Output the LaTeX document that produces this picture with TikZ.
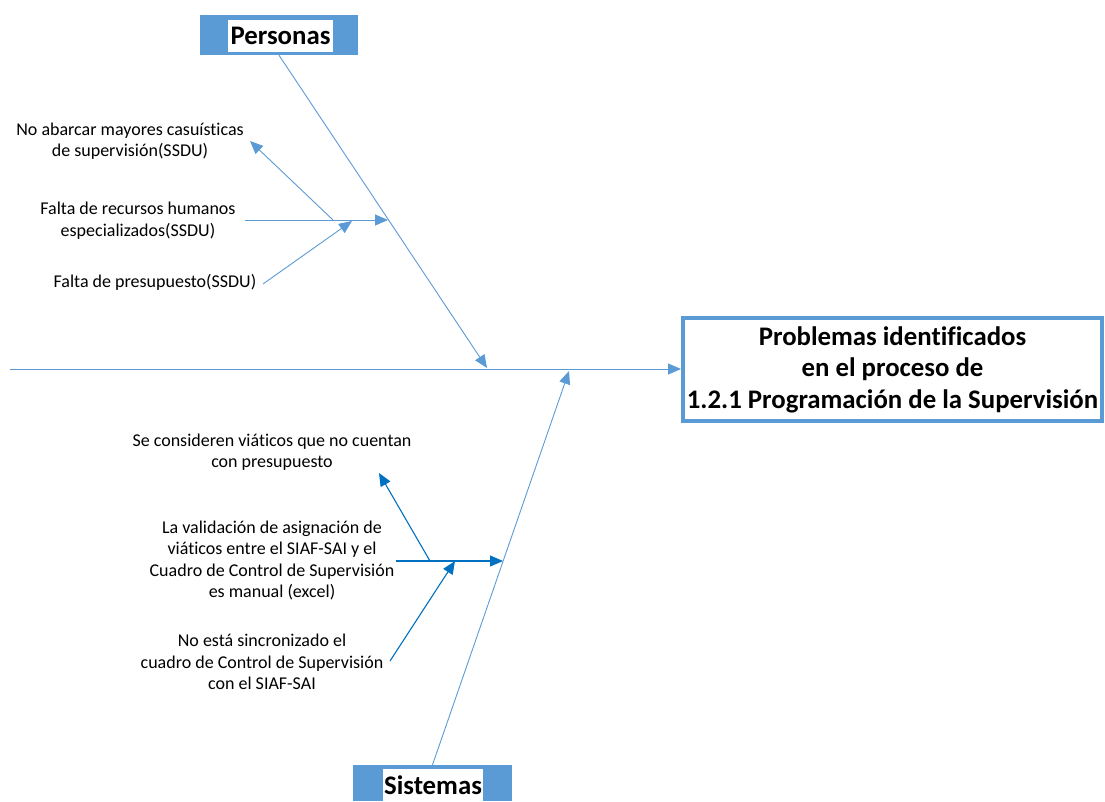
\documentclass[tikz,border=0pt]{standalone}
\usepackage{fontspec}
\setmainfont{Carlito}[Ligatures=NoCommon]
\usetikzlibrary{arrows.meta}
\definecolor{boneblue}{HTML}{5B9BD5}
\definecolor{subblue}{HTML}{0070C0}

\tikzset{
  cause/.style={font=\fontsize{18}{21.5}\selectfont, align=center, inner sep=0pt, text=black},
  headtip/.style={-{Triangle[length=13pt,width=11pt]}},
  boneline/.style={draw=boneblue, line width=0.9pt, headtip},
  subline/.style={draw=subblue, line width=1.1pt, headtip},
  catbox/.style={fill=boneblue, draw=none, inner sep=0pt},
  catlabel/.style={fill=white, draw=none, inner sep=0pt, font=\fontsize{26.8}{30}\selectfont\bfseries},
  effectbox/.style={draw=boneblue, line width=4pt, fill=white, inner sep=0pt, align=center,
    font=\fontsize{26.8}{31.5}\selectfont\bfseries},
}

\begin{document}
\begin{tikzpicture}[x=1pt,y=-1pt]
  \useasboundingbox (0,0) rectangle (1105,801);

  % effect (head of the fish)
  \node[effectbox, minimum width=419pt, minimum height=103pt] (eff) at (892.5,369.5)
    {Problemas identificados\\en el proceso de\\1.2.1 Programación de la Supervisión};

  % category boxes
  \node[catbox, minimum width=158pt, minimum height=40pt] (persB) at (279,35) {};
  \node[catlabel, minimum width=105pt, minimum height=32pt] (persL) at (280.5,36) {Personas};
  \node[catbox, minimum width=159pt, minimum height=36pt] (sisB) at (432.5,783) {};
  \node[catlabel, minimum width=100pt, minimum height=32pt] (sisL) at (433,785) {Sistemas};

  % spine
  \coordinate (tail) at (10,369);
  \draw[boneline] (tail) -- (eff.west |- tail);

  % main bones
  \coordinate (jP) at (487,368);
  \coordinate (jS) at (569,371);
  \draw[boneline] (persB.south) -- (jP);
  \draw[boneline] (sisB.north) -- (jS);

  % causes: Personas
  \node[cause] (t1) at (130,141) {No abarcar mayores casuísticas\\de supervisión(SSDU)};
  \node[cause] (t2) at (138,220.5) {Falta de recursos humanos\\especializados(SSDU)};
  \node[cause] (t3) at (155,282) {Falta de presupuesto(SSDU)};

  \coordinate (p2s) at (245,220);
  \coordinate (p2e) at (388,220);
  \coordinate (p1s) at (333,220);
  \coordinate (p1e) at (250,141);
  \coordinate (p3s) at (263,284);
  \coordinate (p3e) at (352,221);
  \draw[boneline] (p2s) -- (p2e);
  \draw[boneline] (p1s) -- (p1e);
  \draw[boneline] (p3s) -- (p3e);

  % causes: Sistemas
  \node[cause] (s1) at (272,452) {Se consideren viáticos que no cuentan\\con presupuesto};
  \node[cause] (s2) at (272,560.5) {La validación de asignación de\\viáticos entre el SIAF-SAI y el\\Cuadro de Control de Supervisión\\es manual (excel)};
  \node[cause] (s3) at (262,662) {No está sincronizado el\\cuadro de Control de Supervisión\\con el SIAF-SAI};

  \coordinate (q2s) at (396,561);
  \coordinate (q2e) at (503,561);
  \coordinate (q1s) at (430,561);
  \coordinate (q1e) at (379,473);
  \coordinate (q3s) at (390,661);
  \coordinate (q3e) at (455,561);
  \draw[subline] (q2s) -- (q2e);
  \draw[subline] (q1s) -- (q1e);
  \draw[subline] (q3s) -- (q3e);
\end{tikzpicture}
\end{document}
